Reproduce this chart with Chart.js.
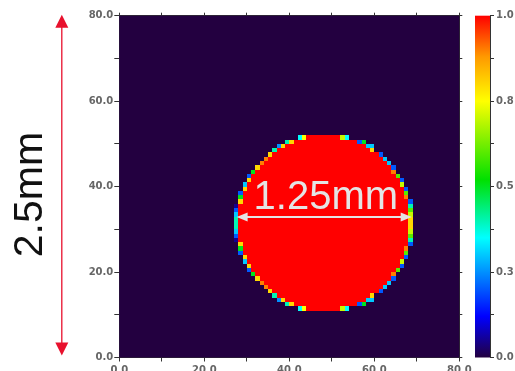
<!DOCTYPE html>
<html>
<head>
<meta charset="utf-8">
<script src="https://cdn.jsdelivr.net/npm/chart.js@4.4.1/dist/chart.umd.min.js"></script>
<style>
  html, body { margin: 0; padding: 0; background: #fff; }
  canvas { display: block; }
</style>
</head>
<body>
<canvas id="myChart" width="515" height="371"></canvas>
<script>
const ctx = document.getElementById("myChart");

const gridSize = 80
const axisLabels = [0, 20, 40, 60, 80]
const barLabels = [0, 0.25, 0.5, 0.75, 1]

// rows of the red disc, from row 51 (top) down to row 11 (bottom)
// [first full column, last full column, value of cell left of it, value of cell right of it]
const rowTop = 51
const circleRows = [
  [44, 51, 0.75, 0.7],
  [41, 55, 0.8, 0.2],
  [39, 57, 0.8, 0.3],
  [37, 58, 0.4, 0.8],
  [36, 60, 0.8, 0.2],
  [35, 61, 0.9, 0.3],
  [34, 62, 0.9, 0.3],
  [33, 63, 0.8, 0.2],
  [32, 63, 0.5, 0.9],
  [31, 64, 0.2, 0.6],
  [31, 65, 0.8, 0.2],
  [30, 65, 0.3, 0.7],
  [30, 66, 0.8, 0.2],
  [29, 66, 0.2, 0.6],
  [29, 66, 0.5, 0.9],
  [29, 67, 0.8, 0.2],
  [28, 67, 0.05, 0.4],
  [28, 67, 0.2, 0.6],
  [28, 67, 0.3, 0.7],
  [28, 67, 0.4, 0.8],
  [28, 67, 0.4, 0.8],
  [28, 67, 0.4, 0.8],
  [28, 67, 0.3, 0.7],
  [28, 67, 0.2, 0.6],
  [28, 67, 0.05, 0.4],
  [29, 67, 0.8, 0.2],
  [29, 66, 0.5, 0.9],
  [29, 66, 0.2, 0.6],
  [30, 66, 0.8, 0.2],
  [30, 65, 0.3, 0.7],
  [31, 65, 0.8, 0.2],
  [31, 64, 0.2, 0.6],
  [32, 63, 0.5, 0.9],
  [33, 63, 0.8, 0.2],
  [34, 62, 0.9, 0.3],
  [35, 61, 0.9, 0.3],
  [36, 60, 0.8, 0.2],
  [37, 58, 0.4, 0.8],
  [39, 57, 0.8, 0.3],
  [41, 55, 0.8, 0.2],
  [44, 51, 0.75, 0.7]
]
// extra partial cells on the flat top and bottom of the disc: [column, row, value]
const edgeCells = [
  [42, 51, 0.35], [53, 51, 0.35], [39, 50, 0.4], [57, 50, 0.5], [37, 49, 0.25], [59, 49, 0.3],
  [37, 13, 0.25], [59, 13, 0.3], [39, 12, 0.4], [57, 12, 0.5], [42, 11, 0.35], [53, 11, 0.35]
]

// colour map (value -> colour)
const cmapStops = [0, 0.12, 0.35, 0.52, 0.75, 0.88, 1]
const cmapColors = ['#230040', '#0000ff', '#00ffff', '#00e000', '#ffff00', '#ff9900', '#ff0000']

const sizeLabel = '2.5mm'
const diameterLabel = '1.25mm'

// build the cell list
const cells = []
circleRows.forEach((r, k) => {
  const j = rowTop - k
  for (let i = r[0]; i <= r[1]; i++) cells.push({x: i, y: j, v: 1})
  if (r[2] > 0) cells.push({x: r[0] - 1, y: j, v: r[2]})
  if (r[3] > 0) cells.push({x: r[1] + 1, y: j, v: r[3]})
})
edgeCells.forEach(c => cells.push({x: c[0], y: c[1], v: c[2]}))

function hexRgb(h){
  return [parseInt(h.slice(1,3),16), parseInt(h.slice(3,5),16), parseInt(h.slice(5,7),16)]
}
function colorFor(v){
  for (let k = 1; k < cmapStops.length; k++) {
    if (v <= cmapStops[k]) {
      const t = (v - cmapStops[k-1]) / (cmapStops[k] - cmapStops[k-1])
      const a = hexRgb(cmapColors[k-1]), b = hexRgb(cmapColors[k])
      return 'rgb(' + a.map((c, n) => Math.round(c + (b[n]-c)*t)).join(',') + ')'
    }
  }
  return cmapColors[cmapColors.length-1]
}

function arrowHead(c, x, y, dx, dy, len, half){
  // tip at (x,y), pointing along (dx,dy)
  c.beginPath()
  c.moveTo(x, y)
  c.lineTo(x - dx*len - dy*half, y - dy*len + dx*half)
  c.lineTo(x - dx*len + dy*half, y - dy*len - dx*half)
  c.closePath()
  c.fill()
}

const heatmap = {
  id: 'heatmap',
  beforeDatasetsDraw(chart){
    const {ctx: c, chartArea: a, scales: {x, y}} = chart
    c.save()
    c.fillStyle = colorFor(0)
    c.fillRect(a.left, a.top, a.width, a.height)
    c.filter = 'blur(0.5px)'
    for (const p of chart.data.datasets[0].data) {
      const x0 = Math.round(x.getPixelForValue(p.x)), x1 = Math.round(x.getPixelForValue(p.x + 1))
      const y0 = Math.round(y.getPixelForValue(p.y + 1)), y1 = Math.round(y.getPixelForValue(p.y))
      c.fillStyle = colorFor(p.v)
      c.fillRect(x0, y0, x1 - x0, y1 - y0)
    }
    c.restore()

    // colour bar
    const bar = chart.scales.cbBar, cb = chart.scales.cb
    const g = c.createLinearGradient(0, cb.getPixelForValue(0), 0, cb.getPixelForValue(1))
    cmapStops.forEach((s, k) => g.addColorStop(s, cmapColors[k]))
    c.fillStyle = g
    c.fillRect(bar.left, cb.getPixelForValue(1), bar.right - bar.left, cb.getPixelForValue(0) - cb.getPixelForValue(1))
  },
  afterDraw(chart){
    const {ctx: c, chartArea: a, scales: {x, y}} = chart
    c.save()
    // white diameter arrow
    const ay = y.getPixelForValue(32.9)
    const ax0 = x.getPixelForValue(27.6), ax1 = x.getPixelForValue(68.8)
    c.strokeStyle = '#e4e4e4'
    c.fillStyle = '#e4e4e4'
    c.lineWidth = 2
    c.beginPath(); c.moveTo(ax0 + 6, ay); c.lineTo(ax1 - 6, ay); c.stroke()
    arrowHead(c, ax0, ay, -1, 0, 11, 4.5)
    arrowHead(c, ax1, ay, 1, 0, 11, 4.5)
    c.font = '40px "Liberation Sans", Arial, sans-serif'
    c.textAlign = 'center'
    c.textBaseline = 'alphabetic'
    c.fillText(diameterLabel, x.getPixelForValue(48.6), y.getPixelForValue(34.8))

    // red size arrow on the left
    const rx = a.left - 57.5
    const top = y.getPixelForValue(gridSize) - 1, bot = y.getPixelForValue(0) - 2
    c.strokeStyle = '#e8112d'
    c.fillStyle = '#e8112d'
    c.lineWidth = 1.3
    c.beginPath(); c.moveTo(rx, top + 10); c.lineTo(rx, bot - 10); c.stroke()
    arrowHead(c, rx, top, 0, -1, 13, 6.5)
    arrowHead(c, rx, bot, 0, 1, 13, 6.5)

    c.translate(a.left - 77.5, (a.top + a.bottom) / 2 + 8)
    c.rotate(-Math.PI / 2)
    c.fillStyle = '#111'
    c.font = '41px "Liberation Sans", Arial, sans-serif'
    c.fillText(sizeLabel, 0, 0)
    c.restore()
  }
}

const tickFont = {family: 'DejaVu Sans', size: 10, weight: 'bold'}
const tickColor = '#666'
const frame = '#333'

const myChart = new Chart(ctx, {
  type: 'scatter',
  data: {
    datasets: [{
      label: 'field',
      data: cells,
      pointRadius: 0,
      pointHoverRadius: 0
    }]
  },
  options: {
    responsive: false,
    animation: false,
    events: [],
    layout: { padding: 0 },
    plugins: {
      legend: { display: false },
      tooltip: { enabled: false }
    },
    scales: {
      x: {
        type: 'linear', position: 'bottom', min: 0, max: gridSize, z: 1,
        afterFit: s => { s.height = 13.5 },
        ticks: { stepSize: 10, autoSkip: false, maxRotation: 0, padding: 3, color: tickColor, font: tickFont,
          callback: v => axisLabels.includes(v) ? v.toFixed(1) : '' },
        grid: { drawOnChartArea: false, tickLength: 4, color: frame },
        border: { color: frame }
      },
      xTop: {
        type: 'linear', position: 'top', min: 0, max: gridSize, z: 1,
        afterFit: s => { s.height = 15.7 },
        ticks: { stepSize: 10, display: false },
        grid: { drawOnChartArea: false, tickLength: 3, color: frame },
        border: { color: frame }
      },
      y: {
        type: 'linear', position: 'left', min: 0, max: gridSize, z: 1,
        afterFit: s => { s.width = 119.3 },
        ticks: { stepSize: 10, autoSkip: false, padding: 1, color: tickColor, font: tickFont,
          callback: v => axisLabels.includes(v) ? v.toFixed(1) : '' },
        grid: { drawOnChartArea: false, tickLength: 5, color: frame },
        border: { color: frame }
      },
      yRight: {
        type: 'linear', position: 'right', min: 0, max: gridSize, z: 1, weight: 0,
        afterFit: s => { s.width = 15.7 },
        ticks: { stepSize: 10, display: false },
        grid: { drawOnChartArea: false, tickLength: 3, color: frame },
        border: { color: frame }
      },
      cbBar: {
        type: 'linear', position: 'right', min: 0, max: 1, weight: 1,
        afterFit: s => { s.width = 15 },
        ticks: { display: false },
        grid: { display: false },
        border: { display: false }
      },
      cb: {
        type: 'linear', position: 'right', min: 0, max: 1, z: 1, weight: 2,
        afterFit: s => { s.width = 25 },
        ticks: { stepSize: 0.125, autoSkip: false, padding: 2, color: tickColor, font: tickFont,
          callback: v => barLabels.includes(v) ? v.toFixed(1) : '' },
        grid: { drawOnChartArea: false, tickLength: 4, color: frame },
        border: { color: frame }
      }
    }
  },
  plugins: [heatmap]
});
</script>
</body>
</html>
